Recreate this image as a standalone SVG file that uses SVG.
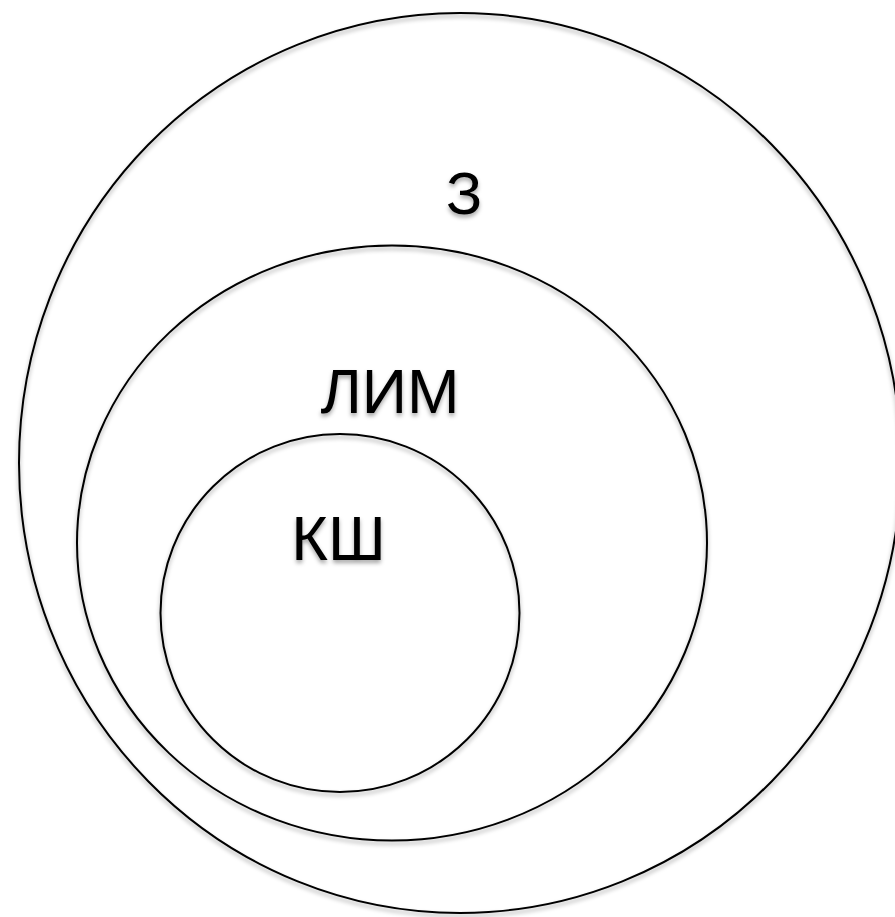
<svg xmlns="http://www.w3.org/2000/svg" width="895" height="917" viewBox="0 0 895 917">
<defs>
<filter id="sh" x="-10%" y="-10%" width="120%" height="125%">
<feDropShadow dx="0" dy="3" stdDeviation="2" flood-color="#000" flood-opacity="0.35"/>
</filter>
</defs>
<style>
.c{fill:none;stroke:#000;stroke-width:2;filter:url(#sh)}
.t{font-family:"Liberation Sans",Arial,sans-serif;fill:#000;text-anchor:middle;filter:url(#sh)}
</style>
<rect width="895" height="917" fill="#fff"/>
<g id="outer">
<ellipse class="c" cx="460" cy="463" rx="441" ry="450"/>
<text class="t" x="464" y="214" font-size="60">З</text>
</g>
<g id="middle">
<ellipse class="c" cx="392" cy="543" rx="315" ry="297.5"/>
<text class="t" x="390" y="413" font-size="63">ЛИМ</text>
</g>
<g id="inner">
<ellipse class="c" cx="340" cy="613" rx="179.5" ry="179"/>
<text class="t" x="338.5" y="560" font-size="63">КШ</text>
</g>
<g id="connectors"></g>
</svg>
